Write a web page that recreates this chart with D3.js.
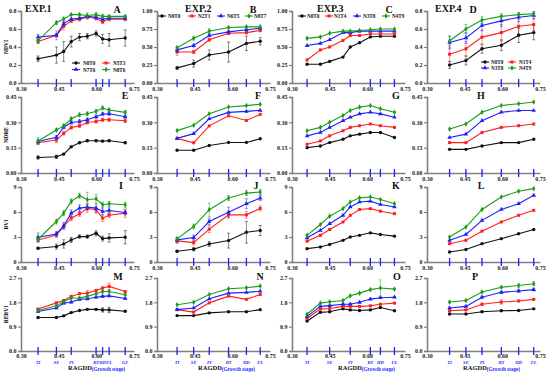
<!DOCTYPE html>
<html>
<head>
<meta charset="utf-8">
<script src="https://cdn.jsdelivr.net/npm/d3@7"></script>
<style>
body { margin: 0; background: #fff; }
text { font-family: "Liberation Serif", "Times New Roman", serif; font-weight: bold; }
</style>
</head>
<body>
<svg id="chart" width="550" height="372"></svg>
<script>
// RAGDD of each sampling date, per experiment
var xExp1 = [0.368, 0.441, 0.470, 0.500, 0.533, 0.564, 0.599, 0.625, 0.651, 0.715];
var xExp2 = [0.380, 0.446, 0.508, 0.585, 0.656, 0.711];
var xExp3 = [0.360, 0.413, 0.450, 0.503, 0.532, 0.569, 0.612, 0.652, 0.708];
var xExp4 = [0.390, 0.455, 0.519, 0.596, 0.665, 0.725];

// growth stage marks on the x axis
var stageExp1 = [0.368, 0.441, 0.500, 0.599, 0.625, 0.651, 0.715];
var stageExp2 = [0.380, 0.446, 0.508, 0.585, 0.656, 0.711];
var stageExp3 = [0.360, 0.450, 0.532, 0.612, 0.652, 0.708];
var stageExp4 = [0.390, 0.455, 0.519, 0.596, 0.665, 0.725];
var stageNames1 = ["TI", "SE", "PI", "BT", "HD", "FL", "GF"];
var stageNames = ["TI", "SE", "PI", "BT", "HD", "FL"];

var xTicks = [0.30, 0.45, 0.60, 0.75];

// treatments (black, red, blue, green)
var treatExp1 = ["N0T0", "N5T3", "N7T6", "N8T6"];
var treatExp2 = ["N0T0", "N2T1", "N6T5", "N8T7"];
var treatExp3 = ["N0T0", "N1T4", "N3T8", "N4T9"];
var treatExp4 = ["N0T0", "N1T4", "N3T8", "N4T9"];

// NDVI
var ndviA = [
  [0.27, 0.31, 0.35, 0.46, 0.51, 0.52, 0.55, 0.49, 0.48, 0.50],
  [0.46, 0.53, 0.63, 0.69, 0.71, 0.73, 0.72, 0.68, 0.71, 0.71],
  [0.51, 0.53, 0.66, 0.71, 0.72, 0.74, 0.73, 0.71, 0.72, 0.72],
  [0.47, 0.67, 0.71, 0.76, 0.76, 0.75, 0.76, 0.74, 0.74, 0.74]];
var ndviAErr = [
  [0.03, 0.09, 0.11, 0.06, 0.04, 0.03, 0.03, 0.05, 0.07, 0.09],
  [0.02, 0.05, 0.04, 0.02, 0.02, 0.02, 0.02, 0.02, 0.02, 0.02],
  [0.03, 0.02, 0.02, 0.01, 0.01, 0.01, 0.02, 0.02, 0.01, 0.01],
  [0.03, 0.02, 0.02, 0.01, 0.01, 0.03, 0.02, 0.02, 0.01, 0.01]];
var ndviB = [
  [0.21, 0.27, 0.39, 0.43, 0.55, 0.58],
  [0.43, 0.43, 0.60, 0.69, 0.70, 0.73],
  [0.46, 0.52, 0.66, 0.71, 0.74, 0.76],
  [0.49, 0.62, 0.72, 0.77, 0.78, 0.78]];
var ndviBErr = [
  [0.02, 0.05, 0.07, 0.14, 0.10, 0.05],
  [0.05, 0.02, 0.02, 0.02, 0.02, 0.02],
  [0.03, 0.02, 0.02, 0.02, 0.02, 0.01],
  [0.02, 0.02, 0.03, 0.01, 0.01, 0.01]];
var ndviC = [
  [0.26, 0.26, 0.30, 0.36, 0.50, 0.56, 0.64, 0.65, 0.65],
  [0.32, 0.46, 0.50, 0.59, 0.66, 0.66, 0.68, 0.68, 0.68],
  [0.52, 0.55, 0.60, 0.70, 0.70, 0.72, 0.72, 0.72, 0.72],
  [0.62, 0.64, 0.69, 0.72, 0.72, 0.73, 0.74, 0.75, 0.75]];
var ndviD = [
  [0.20, 0.25, 0.38, 0.42, 0.53, 0.56],
  [0.32, 0.38, 0.51, 0.56, 0.63, 0.65],
  [0.45, 0.50, 0.64, 0.69, 0.73, 0.75],
  [0.47, 0.60, 0.70, 0.74, 0.76, 0.77]];
var ndviDErr = [
  [0.04, 0.05, 0.05, 0.06, 0.08, 0.08],
  [0.08, 0.08, 0.08, 0.09, 0.08, 0.07],
  [0.07, 0.06, 0.06, 0.06, 0.05, 0.04],
  [0.05, 0.05, 0.04, 0.03, 0.02, 0.02]];

// NDRE
var ndreE = [
  [0.092, 0.096, 0.112, 0.155, 0.179, 0.191, 0.191, 0.189, 0.191, 0.179],
  [0.179, 0.195, 0.235, 0.269, 0.279, 0.299, 0.305, 0.315, 0.315, 0.309],
  [0.187, 0.211, 0.271, 0.299, 0.305, 0.315, 0.333, 0.349, 0.351, 0.333],
  [0.190, 0.255, 0.279, 0.321, 0.345, 0.351, 0.365, 0.385, 0.373, 0.359]];
var ndreEErr = [
  [0.01, 0.01, 0.005, 0.005, 0.005, 0.005, 0.005, 0.005, 0.005, 0.005],
  [0.01, 0.015, 0.01, 0.01, 0.01, 0.01, 0.01, 0.01, 0.01, 0.01],
  [0.01, 0.01, 0.01, 0.01, 0.01, 0.01, 0.01, 0.01, 0.01, 0.01],
  [0.02, 0.01, 0.01, 0.01, 0.01, 0.01, 0.01, 0.01, 0.01, 0.01]];
var ndreF = [
  [0.135, 0.135, 0.163, 0.181, 0.181, 0.203],
  [0.205, 0.179, 0.279, 0.339, 0.311, 0.347],
  [0.205, 0.233, 0.321, 0.359, 0.365, 0.371],
  [0.251, 0.283, 0.351, 0.391, 0.399, 0.407]];
var ndreG = [
  [0.15, 0.16, 0.18, 0.20, 0.22, 0.23, 0.24, 0.24, 0.21],
  [0.17, 0.19, 0.22, 0.25, 0.27, 0.28, 0.29, 0.28, 0.27],
  [0.22, 0.24, 0.27, 0.31, 0.33, 0.35, 0.36, 0.35, 0.33],
  [0.25, 0.27, 0.30, 0.34, 0.37, 0.39, 0.40, 0.38, 0.36]];
var ndreH = [
  [0.14, 0.14, 0.16, 0.18, 0.18, 0.20],
  [0.18, 0.18, 0.24, 0.27, 0.28, 0.29],
  [0.21, 0.23, 0.31, 0.36, 0.37, 0.37],
  [0.26, 0.29, 0.36, 0.40, 0.41, 0.42]];

// RVI
var rviI = [
  [1.65, 1.85, 2.17, 2.65, 3.05, 3.05, 3.45, 2.81, 2.89, 2.97],
  [2.65, 3.25, 4.26, 5.26, 5.78, 6.43, 6.27, 5.26, 5.62, 5.86],
  [2.97, 3.37, 4.34, 5.86, 6.47, 6.59, 6.47, 6.06, 6.18, 5.94],
  [2.73, 4.86, 5.86, 7.27, 7.95, 7.47, 7.59, 6.87, 6.99, 6.87]];
var rviIErr = [
  [0.1, 0.3, 0.5, 0.3, 0.2, 0.2, 0.3, 0.3, 0.5, 0.8],
  [0.3, 0.3, 0.3, 0.3, 0.3, 0.5, 0.4, 0.4, 0.3, 0.5],
  [0.5, 0.3, 0.4, 0.4, 0.4, 0.4, 0.5, 0.4, 0.4, 0.3],
  [0.3, 0.3, 0.3, 0.3, 0.3, 0.9, 0.5, 0.3, 0.3, 0.3]];
var rviJ = [
  [1.29, 1.53, 2.17, 2.57, 3.57, 3.78],
  [2.53, 2.33, 3.94, 5.66, 5.66, 6.43],
  [2.65, 2.93, 4.86, 5.98, 6.99, 7.67],
  [2.77, 4.26, 6.27, 7.67, 8.27, 8.39]];
var rviJErr = [
  [0.1, 0.2, 0.3, 0.9, 1.3, 0.6],
  [0.3, 0.3, 0.4, 0.4, 0.4, 0.3],
  [0.3, 0.3, 0.4, 0.6, 0.6, 0.3],
  [0.2, 0.3, 0.8, 0.3, 0.3, 0.3]];
var rviK = [
  [1.6, 1.8, 2.1, 2.6, 3.0, 3.2, 3.5, 3.3, 3.1],
  [2.5, 3.2, 3.9, 4.8, 5.6, 6.3, 6.4, 6.1, 5.8],
  [2.9, 3.8, 4.6, 5.6, 6.6, 7.2, 7.3, 6.9, 6.6],
  [3.2, 4.5, 5.5, 6.4, 7.2, 7.7, 7.8, 7.5, 7.0]];
var rviL = [
  [1.2, 1.5, 2.2, 2.8, 3.4, 3.9],
  [2.2, 2.6, 3.7, 4.8, 5.6, 6.2],
  [2.6, 3.3, 5.0, 6.3, 7.0, 8.0],
  [3.0, 4.2, 6.3, 7.8, 8.5, 8.8]];

// RERVI
var rerviM = [
  [1.24, 1.24, 1.30, 1.42, 1.50, 1.54, 1.54, 1.52, 1.52, 1.47],
  [1.55, 1.78, 1.87, 2.02, 2.12, 2.14, 2.24, 2.33, 2.39, 2.20],
  [1.46, 1.59, 1.77, 1.81, 1.91, 1.93, 1.99, 2.02, 2.04, 1.94],
  [1.50, 1.67, 1.83, 1.96, 1.96, 2.02, 2.12, 2.20, 2.20, 2.08]];
var rerviMErr = [
  [0.02, 0.02, 0.02, 0.02, 0.02, 0.02, 0.03, 0.08, 0.10, 0.02],
  [0.03, 0.03, 0.03, 0.03, 0.03, 0.10, 0.04, 0.04, 0.12, 0.03],
  [0.03, 0.03, 0.03, 0.03, 0.03, 0.03, 0.03, 0.03, 0.03, 0.03],
  [0.03, 0.03, 0.03, 0.03, 0.03, 0.03, 0.03, 0.05, 0.05, 0.03]];
var rerviN = [
  [1.31, 1.31, 1.41, 1.45, 1.45, 1.53],
  [1.53, 1.44, 1.78, 2.03, 1.91, 2.09],
  [1.53, 1.59, 1.93, 2.14, 2.17, 2.21],
  [1.71, 1.80, 2.09, 2.30, 2.34, 2.40]];
var rerviO = [
  [1.11, 1.43, 1.45, 1.56, 1.52, 1.50, 1.52, 1.61, 1.49],
  [1.21, 1.55, 1.57, 1.65, 1.65, 1.65, 1.67, 1.73, 1.77],
  [1.28, 1.65, 1.68, 1.73, 1.73, 1.80, 1.92, 1.97, 1.99],
  [1.36, 1.77, 1.82, 1.87, 2.04, 2.14, 2.27, 2.33, 2.29]];
var rerviOErr = [
  [0.02, 0.02, 0.02, 0.02, 0.02, 0.02, 0.02, 0.02, 0.02],
  [0.02, 0.02, 0.02, 0.02, 0.02, 0.02, 0.02, 0.02, 0.02],
  [0.02, 0.02, 0.02, 0.04, 0.02, 0.02, 0.02, 0.02, 0.02],
  [0.03, 0.02, 0.02, 0.02, 0.02, 0.02, 0.02, 0.30, 0.02]];
var rerviP = [
  [1.37, 1.37, 1.45, 1.49, 1.50, 1.56],
  [1.49, 1.52, 1.73, 1.81, 1.85, 1.91],
  [1.59, 1.65, 1.99, 2.17, 2.22, 2.27],
  [1.81, 1.87, 2.18, 2.36, 2.42, 2.49]];
var rerviPErr = [
  [0.02, 0.02, 0.02, 0.02, 0.02, 0.02],
  [0.02, 0.02, 0.04, 0.08, 0.03, 0.03],
  [0.03, 0.03, 0.04, 0.04, 0.06, 0.05],
  [0.03, 0.03, 0.03, 0.03, 0.06, 0.07]];

var yTitles = ["NDVI", "NDRE", "RVI", "RERVI"];

// ---- layout ----
var colors = ["#111111", "#ff1f1f", "#1f1fff", "#1a9c1a"];
var symbols = [d3.symbolCircle, d3.symbolSquare, d3.symbolTriangle, d3.symbolDiamond];
var colX = [21, 157, 292, 427];
var rowTop = [11, 97, 187, 278];
var rowBot = [83, 173, 262, 351];
var pw = 113;

var exps = [
  { x: xExp1, stage: stageExp1, names: stageNames1, treat: treatExp1 },
  { x: xExp2, stage: stageExp2, names: stageNames, treat: treatExp2 },
  { x: xExp3, stage: stageExp3, names: stageNames, treat: treatExp3 },
  { x: xExp4, stage: stageExp4, names: stageNames, treat: treatExp4 }
];

var panels = [
  { id: "A", row: 0, col: 0, data: ndviA, err: ndviAErr, yMax: 0.8, ticks: [0, 0.2, 0.4, 0.6, 0.8], fmt: ".1f", lx: 96 },
  { id: "B", row: 0, col: 1, data: ndviB, err: ndviBErr, yMax: 1.0, ticks: [0, 0.25, 0.5, 0.75, 1.0], fmt: ".2f", lx: 96 },
  { id: "C", row: 0, col: 2, data: ndviC, err: null, yMax: 1.0, ticks: [0, 0.25, 0.5, 0.75, 1.0], fmt: ".2f", lx: 97 },
  { id: "D", row: 0, col: 3, data: ndviD, err: ndviDErr, yMax: 0.8, ticks: [0, 0.2, 0.4, 0.6, 0.8], fmt: ".1f", lx: 46 },
  { id: "E", row: 1, col: 0, data: ndreE, err: ndreEErr, yMax: 0.45, ticks: [0, 0.15, 0.3, 0.45], fmt: ".2f", lx: 104 },
  { id: "F", row: 1, col: 1, data: ndreF, err: null, yMax: 0.45, ticks: [0, 0.15, 0.3, 0.45], fmt: ".2f", lx: 101 },
  { id: "G", row: 1, col: 2, data: ndreG, err: null, yMax: 0.45, ticks: [0, 0.15, 0.3, 0.45], fmt: ".2f", lx: 104 },
  { id: "H", row: 1, col: 3, data: ndreH, err: null, yMax: 0.45, ticks: [0, 0.15, 0.3, 0.45], fmt: ".2f", lx: 54 },
  { id: "I", row: 2, col: 0, data: rviI, err: rviIErr, yMax: 9, ticks: [0, 3, 6, 9], fmt: "d", lx: 100 },
  { id: "J", row: 2, col: 1, data: rviJ, err: rviJErr, yMax: 9, ticks: [0, 3, 6, 9], fmt: "d", lx: 99 },
  { id: "K", row: 2, col: 2, data: rviK, err: null, yMax: 9, ticks: [0, 3, 6, 9], fmt: "d", lx: 104 },
  { id: "L", row: 2, col: 3, data: rviL, err: null, yMax: 9, ticks: [0, 3, 6, 9], fmt: "d", lx: 54 },
  { id: "M", row: 3, col: 0, data: rerviM, err: rerviMErr, yMax: 2.7, ticks: [0, 0.9, 1.8, 2.7], fmt: ".1f", lx: 97 },
  { id: "N", row: 3, col: 1, data: rerviN, err: null, yMax: 2.7, ticks: [0, 0.9, 1.8, 2.7], fmt: ".1f", lx: 103 },
  { id: "O", row: 3, col: 2, data: rerviO, err: rerviOErr, yMax: 2.7, ticks: [0, 0.9, 1.8, 2.7], fmt: ".1f", lx: 105 },
  { id: "P", row: 3, col: 3, data: rerviP, err: rerviPErr, yMax: 2.7, ticks: [0, 0.9, 1.8, 2.7], fmt: ".1f", lx: 48 }
];

// legend layouts: [lineStartX, textX, y] per treatment, relative to panel origin
var legendLayouts = [
  [[51, 62, 52], [81, 92, 52], [51, 62, 58.5], [81, 92, 58.5]],
  [[1, 11, 5], [31, 41, 5], [60, 70, 5], [88, 97, 5]],
  [[6, 15, 5], [33, 42, 5], [61, 71, 5], [90, 100, 5]],
  [[54, 64, 51], [81, 92, 51], [54, 64, 57], [81, 92, 57]]
];
var expLabelX = [4, 28, 25, 8];
var ragddX = [47, 41, 46, 36];

var svg = d3.select("#chart");

function drawPanel(p) {
  var exp = exps[p.col];
  var x0 = colX[p.col], top = rowTop[p.row], h = rowBot[p.row] - top;
  var g = svg.append("g").attr("transform", "translate(" + x0 + "," + top + ")");
  var x = d3.scaleLinear().domain([0.30, 0.75]).range([0, pw]);
  var y = d3.scaleLinear().domain([0, p.yMax]).range([h, 0]);

  // axes
  var yAxis = g.append("g").call(d3.axisLeft(y).tickValues(p.ticks).tickSize(3).tickPadding(1.5)
    .tickFormat(d3.format(p.fmt)));
  var xAxis = g.append("g").attr("transform", "translate(0," + h + ")")
    .call(d3.axisBottom(x).tickValues(xTicks).tickSize(0).tickPadding(p.row === 3 ? 2.5 : 4)
      .tickFormat(d3.format(".2f")));
  [yAxis, xAxis].forEach(function (a) {
    a.select(".domain").attr("stroke", "#808080").attr("stroke-width", 1.6);
    a.selectAll(".tick line").attr("stroke", "#808080").attr("stroke-width", 1.2);
    a.selectAll(".tick text").attr("fill", "#222").style("font-size", "6px")
      .style("font-family", "Liberation Serif, serif").style("font-weight", "bold");
  });

  // growth stage marks
  g.selectAll(".stage").data(exp.stage).enter().append("line")
    .attr("x1", function (d) { return x(d); }).attr("x2", function (d) { return x(d); })
    .attr("y1", h - 4).attr("y2", h + 4)
    .attr("stroke", "#1f1fff").attr("stroke-width", 1.3);

  if (p.row === 3) {
    g.selectAll(".stageName").data(exp.stage).enter().append("text")
      .attr("x", function (d) { return x(d); }).attr("y", h + 12.5)
      .attr("text-anchor", "middle").attr("fill", "#1f1fff")
      .style("font-size", "4.6px").style("font-style", "italic")
      .text(function (d, i) { return exp.names[i]; });
    var t = g.append("text").attr("x", ragddX[p.col]).attr("y", h + 18.5)
      .style("font-size", "6.5px").attr("fill", "#111");
    t.append("tspan").text("RAGDD");
    t.append("tspan").attr("fill", "#1f1fff").attr("dy", 1).style("font-size", "5.2px").text("(Growth stage)");
  }

  // series
  var line = d3.line().x(function (d) { return x(d[0]); }).y(function (d) { return y(d[1]); });
  p.data.forEach(function (vals, si) {
    var pts = vals.map(function (v, i) { return [exp.x[i], v]; });
    if (p.err) {
      var eg = g.append("g").attr("stroke", colors[si]).attr("stroke-opacity", 0.55).attr("stroke-width", 0.9);
      pts.forEach(function (d, i) {
        var e = p.err[si][i];
        var cx = x(d[0]), ylo = y(d[1] - e), yhi = y(d[1] + e);
        eg.append("line").attr("x1", cx).attr("x2", cx).attr("y1", ylo).attr("y2", yhi);
        eg.append("line").attr("x1", cx - 1.5).attr("x2", cx + 1.5).attr("y1", ylo).attr("y2", ylo);
        eg.append("line").attr("x1", cx - 1.5).attr("x2", cx + 1.5).attr("y1", yhi).attr("y2", yhi);
      });
    }
    g.append("path").datum(pts).attr("d", line).attr("fill", "none")
      .attr("stroke", colors[si]).attr("stroke-width", 1.1);
    g.selectAll(".m" + si).data(pts).enter().append("path")
      .attr("transform", function (d) { return "translate(" + x(d[0]) + "," + y(d[1]) + ")"; })
      .attr("d", d3.symbol().type(symbols[si]).size(9))
      .attr("fill", colors[si]);
  });

  // panel letter
  g.append("text").attr("x", p.lx).attr("y", 2).attr("text-anchor", "middle")
    .style("font-size", "10px").attr("fill", "#111").text(p.id);

  if (p.row === 0) {
    g.append("text").attr("x", expLabelX[p.col]).attr("y", 0.5)
      .style("font-size", "10px").attr("fill", "#111").text("EXP." + (p.col + 1));
    var lay = legendLayouts[p.col];
    exp.treat.forEach(function (name, si) {
      var L = lay[si];
      var lg = g.append("g");
      lg.append("line").attr("x1", L[0]).attr("x2", L[0] + 8).attr("y1", L[2]).attr("y2", L[2])
        .attr("stroke", colors[si]).attr("stroke-width", 1.1);
      lg.append("path").attr("transform", "translate(" + (L[0] + 4) + "," + L[2] + ")")
        .attr("d", d3.symbol().type(symbols[si]).size(9)).attr("fill", colors[si]);
      lg.append("text").attr("x", L[1]).attr("y", L[2] + 2).style("font-size", "5.2px")
        .attr("fill", "#111").text(name);
    });
  }

  if (p.col === 0) {
    svg.append("text").attr("transform", "translate(8," + (top + h / 2) + ") rotate(-90)")
      .attr("text-anchor", "middle").style("font-size", "5.5px").attr("fill", "#111")
      .text(yTitles[p.row]);
  }
}

panels.forEach(drawPanel);
</script>
</body>
</html>
